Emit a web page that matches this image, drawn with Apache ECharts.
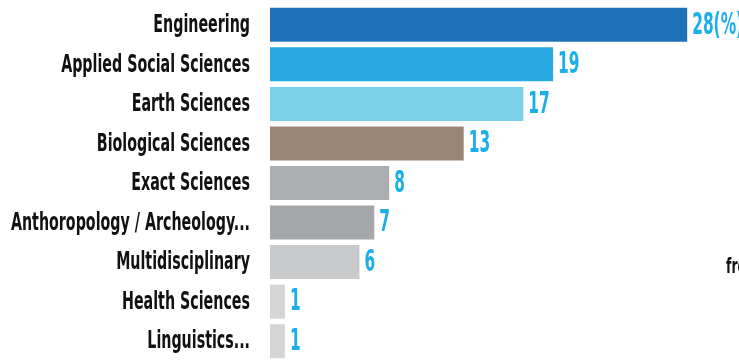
<!DOCTYPE html>
<html>
<head>
<meta charset="utf-8">
<script src="https://cdn.jsdelivr.net/npm/echarts@6/dist/echarts.min.js"></script>
<style>html,body{margin:0;padding:0;background:#fff;}#c{width:739px;height:363px;}</style>
</head>
<body>
<div id="c"></div>
<script>
const categories = ["Engineering","Applied Social Sciences","Earth Sciences","Biological Sciences","Exact Sciences","Anthoropology / Archeology...","Multidisciplinary","Health Sciences","Linguistics..."];
const values = [28,19,17,13,8,7,6,1,1];
const labels = ["28(%)","19","17","13","8","7","6","1","1"];
const colors = ["#1f72ba","#29a9e1","#7bd0e9","#9a8576","#acadb0","#a6a7aa","#c8c9cb","#d4d5d7","#d4d5d7"];

const FONT = "'DejaVu Sans Condensed', 'Liberation Sans', sans-serif";
const chart = echarts.init(document.getElementById('c'), null, {renderer:'canvas'});
chart.setOption({
  animation:false,
  backgroundColor:'#ffffff',
  grid:{left:270, right:22, top:5, bottom:2, containLabel:false, outerBoundsMode:'none'},
  xAxis:{type:'value', min:0, max:30, show:false},
  yAxis:{type:'category', data:categories, inverse:true,
    axisLine:{show:false}, axisTick:{show:false}, splitLine:{show:false},
    axisLabel:{show:false}},
  series:[{
    type:'bar', barCategoryGap:'14%',
    data: values.map((v,i)=>({value:v, itemStyle:{color:colors[i]}}))
  },{
    type:'custom', clip:false, silent:true,
    encode:{x:0, y:1},
    data: categories.map((c,i)=>[0,i]),
    renderItem:(params, api)=>{
      const i = api.value(1);
      const pt = api.coord([0, i]);
      return {type:'text', x:pt[0]-20, y:pt[1]+1, scaleX:0.66,
        style:{text:categories[i], align:'right', verticalAlign:'middle', fill:'#111111',
          font:"bold 24px " + FONT}};
    }
  },{
    type:'custom', clip:false, silent:true,
    encode:{x:0, y:1},
    data: values.map((v,i)=>[v,i]),
    renderItem:(params, api)=>{
      const i = api.value(1);
      const pt = api.coord([api.value(0), i]);
      return {type:'text', x:pt[0]+5, y:pt[1]+1, scaleX:0.57,
        style:{text:labels[i], align:'left', verticalAlign:'middle', fill:'#1aaeea',
          font:"bold 30px " + FONT}};
    }
  }],
  graphic:[{type:'text', left:726, top:257, scaleX:0.66,
    style:{text:'from', fill:'#111111', font:"bold 21px " + FONT}}]
});
</script>
</body>
</html>
